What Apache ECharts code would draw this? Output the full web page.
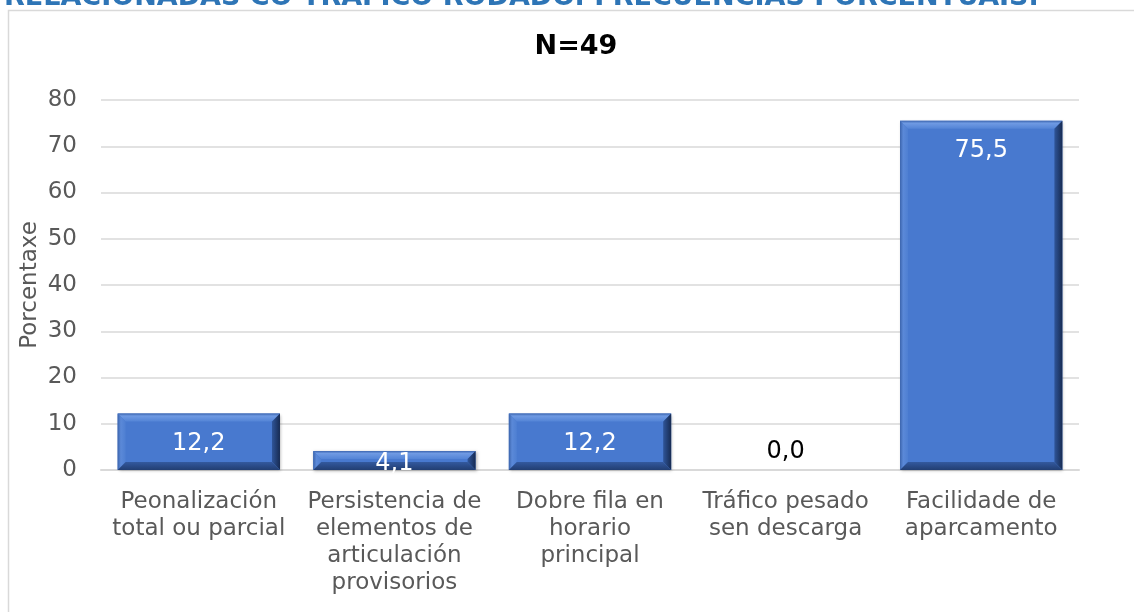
<!DOCTYPE html>
<html>
<head>
<meta charset="utf-8">
<script src="https://cdn.jsdelivr.net/npm/echarts@6/dist/echarts.min.js"></script>
<style>
  html, body { margin: 0; padding: 0; background: #fff; }
  #chart { width: 1134px; height: 612px; }
</style>
</head>
<body>
<div id="chart"></div>
<script>
// categorias e valores (porcentaxes)
const categories = [
    'Peonalización\ntotal ou parcial',
    'Persistencia de\nelementos de\narticulación\nprovisorios',
    'Dobre fila en\nhorario\nprincipal',
    'Tráfico pesado\nsen descarga',
    'Facilidade de\naparcamento'
];
const values = [12.2, 4.1, 12.2, 0.0, 75.5];
const yTicks = { min: 0, max: 80, interval: 10 };
const headTitle = 'RELACIONADAS CO TRÁFICO RODADO. FRECUENCIAS PORCENTUAIS.';
const subTitle = 'N=49';

const font = 'DejaVu Sans, Verdana, sans-serif';
const chart = echarts.init(document.getElementById('chart'));

const fmt = v => v.toFixed(1).replace('.', ',');
const BEVEL = 8;

// barra con bisel, debuxada coas escalas do eixo
function renderBevelBar(params, api) {
    const idx = api.value(0);
    const val = api.value(1);
    if (!val) return;
    const top = api.coord([idx, val]);
    const base = api.coord([idx, 0]);
    const w = api.size([1, 0])[0] * 0.83;
    const x0 = top[0] - w / 2, x1 = top[0] + w / 2;
    const y0 = top[1], y1 = base[1];
    const b = Math.min(BEVEL, (y1 - y0) / 2);
    const poly = (pts, fill) => ({ type: 'polygon', shape: { points: pts }, style: { fill: fill } });
    return {
        type: 'group',
        children: [
            {
                type: 'rect',
                shape: { x: x0, y: y0, width: w, height: y1 - y0 },
                style: {
                    fill: '#4879CF',
                    shadowColor: 'rgba(0,0,0,0.3)', shadowBlur: 3, shadowOffsetX: 1, shadowOffsetY: 1
                }
            },
            // arriba
            poly([[x0, y0], [x1, y0], [x1 - b, y0 + b], [x0 + b, y0 + b]], {
                type: 'linear', x: 0, y: 0, x2: 0, y2: 1,
                colorStops: [{ offset: 0, color: '#3C66B0' }, { offset: 0.3, color: '#6F9AE3' }, { offset: 1, color: '#5384D6' }]
            }),
            // esquerda
            poly([[x0, y0], [x0 + b, y0 + b], [x0 + b, y1 - b], [x0, y1]], {
                type: 'linear', x: 0, y: 0, x2: 1, y2: 0,
                colorStops: [{ offset: 0, color: '#3B64AC' }, { offset: 0.4, color: '#5B89D8' }, { offset: 1, color: '#4E7FD2' }]
            }),
            // dereita
            poly([[x1, y0], [x1, y1], [x1 - b, y1 - b], [x1 - b, y0 + b]], {
                type: 'linear', x: 0, y: 0, x2: 1, y2: 0,
                colorStops: [{ offset: 0, color: '#2F5599' }, { offset: 1, color: '#172B52' }]
            }),
            // abaixo
            poly([[x0, y1], [x0 + b, y1 - b], [x1 - b, y1 - b], [x1, y1]], {
                type: 'linear', x: 0, y: 0, x2: 0, y2: 1,
                colorStops: [{ offset: 0, color: '#33599E' }, { offset: 1, color: '#223E72' }]
            })
        ]
    };
}

const labelData = values.map((v) => {
    if (v === 0) {
        return { value: v, label: { position: 'top', color: '#000', distance: 6 } };
    }
    if (v < 8) {
        return { value: v, label: { position: 'inside', offset: [0, 3] } };
    }
    return { value: v };
});

const option = {
    animation: false,
    backgroundColor: '#fff',
    graphic: [
        {
            type: 'rect',
            shape: { x: 8.5, y: 10.5, width: 1200, height: 700 },
            style: { fill: 'none', stroke: '#D9D9D9', lineWidth: 1.5 },
            silent: true
        },
        {
            type: 'text',
            left: 4,
            top: -16,
            style: {
                text: headTitle,
                fill: '#2E75B6',
                font: 'bold 27px ' + font
            }
        },
        {
            type: 'text',
            x: 576,
            y: 47,
            style: {
                text: subTitle,
                fill: '#000',
                font: 'bold 27px ' + font,
                align: 'center',
                verticalAlign: 'middle'
            }
        }
    ],
    grid: { left: 101, right: 55, top: 100, bottom: 142 },
    xAxis: {
        type: 'category',
        data: categories,
        axisLine: { lineStyle: { color: '#D9D9D9', width: 2 } },
        axisTick: { show: false },
        axisLabel: {
            fontFamily: font, fontSize: 23, color: '#595959',
            lineHeight: 27, margin: 19, interval: 0
        }
    },
    yAxis: {
        type: 'value',
        min: yTicks.min,
        max: yTicks.max,
        interval: yTicks.interval,
        name: 'Porcentaxe',
        nameLocation: 'middle',
        nameGap: 59,
        nameMoveOverlap: false,
        nameTextStyle: { fontFamily: font, fontSize: 23, color: '#595959' },
        axisLine: { show: false },
        axisTick: { show: false },
        axisLabel: { fontFamily: font, fontSize: 23, color: '#595959', margin: 24 },
        splitLine: { lineStyle: { color: '#D9D9D9', width: 1.5 } }
    },
    series: [
        {
            type: 'custom',
            renderItem: renderBevelBar,
            data: values.map((v, i) => [i, v]),
            z: 2
        },
        {
            type: 'bar',
            data: labelData,
            barCategoryGap: '17%',
            itemStyle: { color: 'rgba(0,0,0,0)' },
            z: 3,
            label: {
                show: true,
                position: 'insideTop',
                distance: 18,
                color: '#fff',
                fontFamily: font,
                fontSize: 24,
                formatter: p => fmt(p.value)
            }
        }
    ]
};

chart.setOption(option);
</script>
</body>
</html>
